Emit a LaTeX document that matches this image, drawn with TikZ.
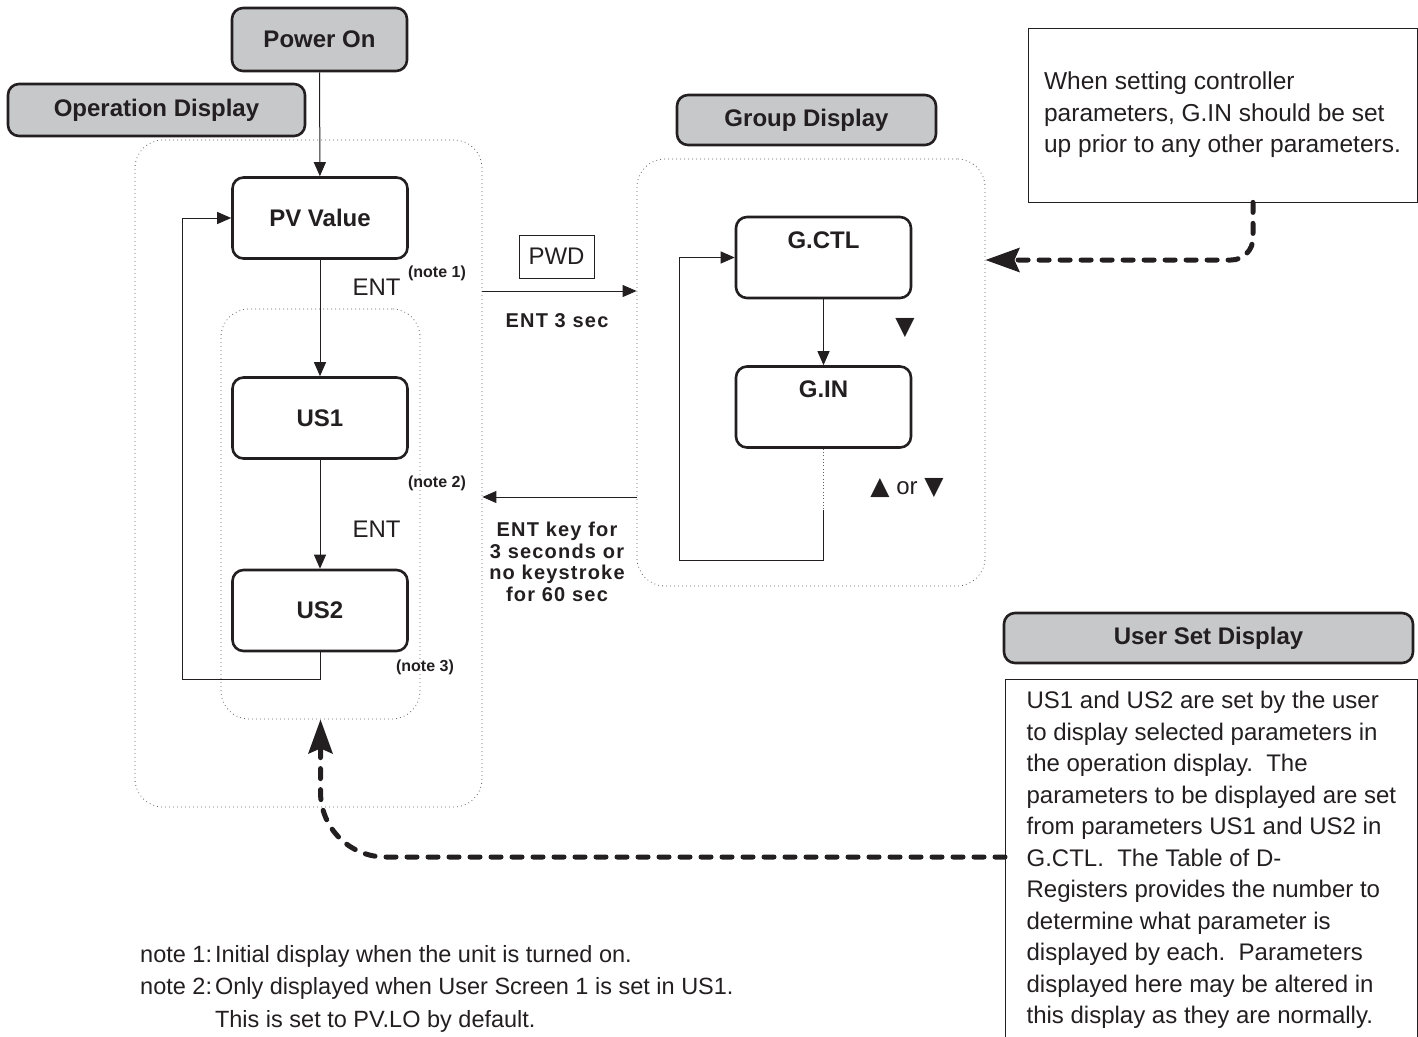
\documentclass[tikz,border=0pt]{standalone}
\usepackage{fontspec}
\setmainfont{Liberation Sans}
\newfontfamily\keyfont[LetterSpace=6]{Liberation Sans}
\newfontfamily\symfont{DejaVu Sans}
\usepackage{xcolor}
\usepackage{tikz}
\usetikzlibrary{arrows.meta,calc}
\definecolor{LabelGray}{RGB}{199, 200, 202}
\definecolor{LineBlack}{RGB}{35, 31, 32}
\definecolor{DotGray}{RGB}{95, 95, 95}
\newcommand{\boxfont}{\fontsize{24}{29}\selectfont\bfseries}
\newcommand{\plainfont}{\fontsize{24}{31.5}\selectfont}
\frenchspacing

\begin{document}
\begin{tikzpicture}[x=1pt, y=-1pt, color=LineBlack,
    hdr/.style={draw=LineBlack, line width=2.6pt, fill=LabelGray, rounded corners=11pt, inner sep=0pt, font=\boxfont},
    state/.style={draw=LineBlack, line width=2.6pt, fill=white, rounded corners=11pt, inner sep=0pt, minimum width=175pt, minimum height=81pt, font=\boxfont},
    groupbox/.style={draw=DotGray, line width=0.8pt, dash pattern=on 0.8pt off 3.2pt, rounded corners=28pt, inner sep=0pt},
    arr/.style={draw=LineBlack, line width=1pt, -{Triangle[length=14pt,width=12pt]}},
    bigdash/.style={draw=LineBlack, line width=5pt, line cap=round, dash pattern=on 10pt off 11pt, -{Stealth[length=34pt,width=24pt,inset=5pt]}},
    notelbl/.style={inner sep=0pt, font=\fontsize{16}{19}\selectfont\bfseries},
    keylbl/.style={inner sep=0pt, align=center, font=\fontsize{20}{21.5}\selectfont\keyfont\bfseries},
    entlbl/.style={inner sep=0pt, anchor=west, xshift=32pt, font=\plainfont},
    textbox/.style={draw=LineBlack, line width=0.8pt, align=left, inner xsep=0pt, font=\plainfont}]

    \useasboundingbox (0,0) rectangle (1418,1036);
    \clip (0,0) rectangle (1418,1036);

    % Dotted group frames
    \node[groupbox, minimum width=347pt, minimum height=667pt] (opbox) at (308.5,473.5) {};
    \node[groupbox, minimum width=199pt, minimum height=410pt] (usbox) at (320.5,514) {};
    \node[groupbox, minimum width=348pt, minimum height=427pt] (grpbox) at (811,372.5) {};

    % Gray title boxes
    \node[hdr, minimum width=175pt, minimum height=63pt] (power) at (319.5,39.5) {Power On};
    \node[hdr, minimum width=297pt, minimum height=52pt] (opdisp) at (156.5,110) {Operation Display};
    \node[hdr, minimum width=259pt, minimum height=50pt] (grpdisp) at (806.5,120) {Group Display};
    \node[hdr, minimum width=409pt, minimum height=50pt] (usdisp) at (1208.5,638) {User Set Display};

    % Operation display
    \node[state] (pv) at (320,218) {PV Value};
    \node[state] (us1) at (320,418) {US1};
    \node[state] (us2) at (320,610.5) {US2};
    \draw[arr] (power) -- (pv);
    \draw[arr] (pv) -- node[entlbl, pos=0.233] {ENT} (us1);
    \draw[arr] (us1) -- node[entlbl, pos=0.64] {ENT} (us2);
    \draw[arr] (us2.south) -- ++(0,27) -| ([xshift=-49pt]pv.west) -- (pv.west);
    \node[notelbl] (note1) at (437,273) {(note 1)};
    \node[notelbl] (note2) at (437,483) {(note 2)};
    \node[notelbl] (note3) at (425,667) {(note 3)};

    % Between the displays
    \node[draw=LineBlack, line width=0.8pt, minimum width=75pt, minimum height=43pt, inner sep=0pt, font=\plainfont] (pwd) at (556.5,256.5) {PWD};
    \draw[arr] (opbox.east |- 0,291) -- (grpbox.west |- 0,291);
    \node[keylbl] (ent3) at (557,321) {ENT 3 sec};
    \draw[arr] (grpbox.west |- 0,497) -- (opbox.east |- 0,497);
    \node[keylbl] (entkey) at (557,562) {ENT key for\\3 seconds or\\no keystroke\\for 60 sec};

    % Group display
    \node[state, text depth=35pt, inner ysep=14.4pt] (gctl) at (823.5,257.5) {G.CTL};
    \node[state, text depth=35pt, inner ysep=14.4pt] (gin) at (823.5,407) {G.IN};
    \draw[arr] (gctl) -- (gin);
    \node[inner sep=0pt, font=\fontsize{25}{25}\selectfont\symfont] (downkey) at (905,328) {▼};
    \coordinate (gbreak) at ($(gin.south)+(0,61)$);
    \draw[DotGray, line width=0.8pt, dash pattern=on 0.8pt off 2.5pt] (gin.south) -- (gbreak);
    \draw[arr] (gbreak) -- ++(0,51) -| ([xshift=-55pt]gctl.west) -- (gctl.west);
    \node[inner sep=0pt, font=\plainfont] (updown) at (907,488) {{\symfont\fontsize{25}{25}\selectfont ▲} or {\symfont\fontsize{25}{25}\selectfont ▼}};

    % Remarks
    \node[textbox, minimum width=389pt, minimum height=174pt, font=\fontsize{24.5}{31.5}\selectfont] (tipnote) at (1222.5,115)
        {When setting controller\\parameters, G.IN should be set\\up prior to any other parameters.};
    \draw[bigdash, rounded corners=22pt] (tipnote.south -| 1253,0) |- (grpbox.east |- 0,260);

    \node[textbox, anchor=north west, minimum width=412pt, inner ysep=12pt] (usertext) at (1005,679)
        {US1 and US2 are set by the user\\to display selected parameters in\\the operation display.~ The\\parameters to be displayed are set\\from parameters US1 and US2 in\\G.CTL.~ The Table of D-\\Registers provides the number to\\determine what parameter is\\displayed by each.~ Parameters\\displayed here may be altered in\\this display as they are normally.};
    \draw[bigdash, rounded corners=65pt] (usertext.west |- 0,857) -| (usbox.south);

    % Footnotes
    \node[anchor=base west, inner sep=0pt, font=\fontsize{23.5}{32.5}\selectfont] (notes) at (140,962)
        {\begin{tabular}[t]{@{}l@{\hspace{3pt}}l@{}}
        note 1: & Initial display when the unit is turned on.\\
        note 2: & Only displayed when User Screen 1 is set in US1.\\
                & This is set to PV.LO by default.
        \end{tabular}};
\end{tikzpicture}
\end{document}
